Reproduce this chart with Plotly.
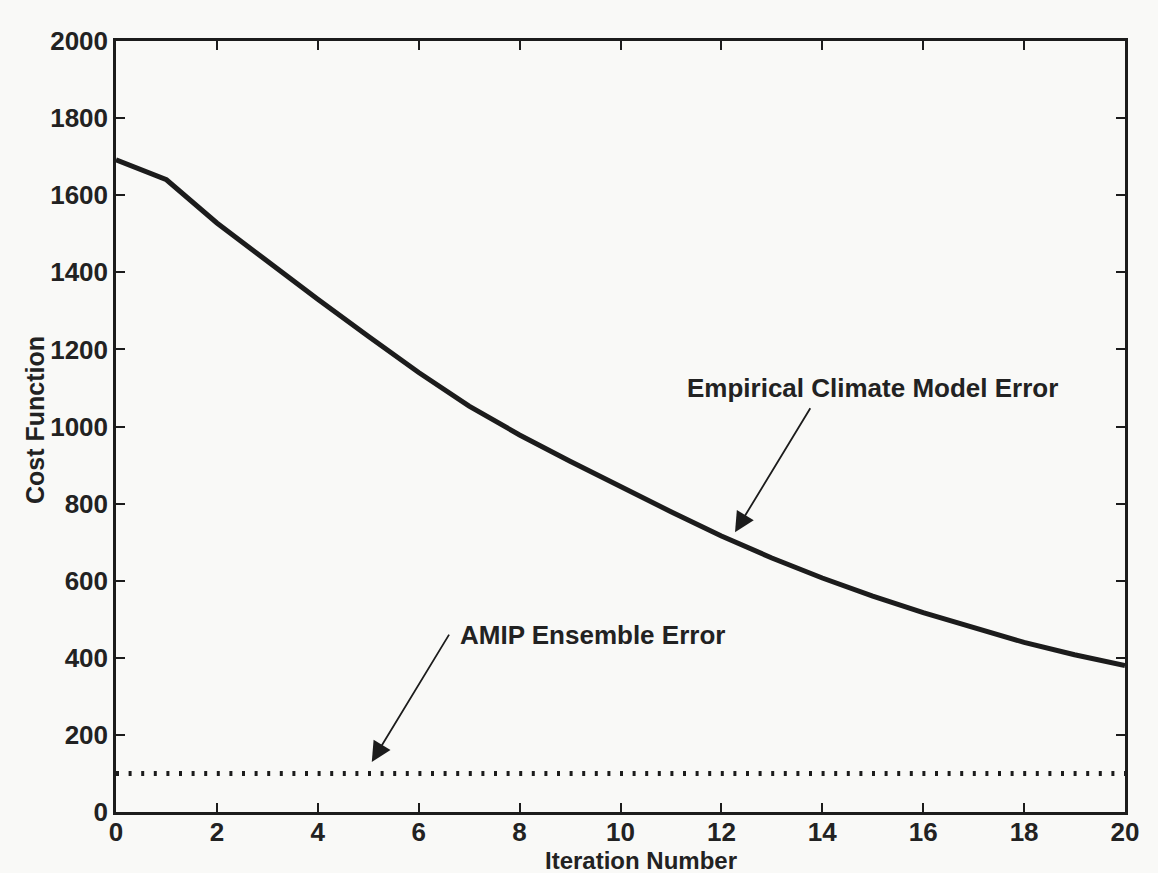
import plotly.graph_objects as go

# Data
iterations = list(range(0, 21))
ecm_error = [1692, 1640, 1528, 1428, 1330, 1234, 1140, 1053, 978, 910, 844,
             779, 716, 659, 607, 560, 517, 477, 440, 408, 380]
amip_x = [0, 20]
amip_error = [100, 100]

x_ticks = list(range(0, 21, 2))
y_ticks = list(range(0, 2001, 200))

ink = "#1c1c1c"
font_family = "Liberation Sans, Arial, Helvetica, sans-serif"

fig = go.Figure()
fig.add_trace(go.Scatter(x=iterations, y=ecm_error, mode="lines",
                         line=dict(color=ink, width=5), showlegend=False))
fig.add_trace(go.Scatter(x=amip_x, y=amip_error, mode="lines",
                         line=dict(color=ink, width=5, dash="3px,9.6px"),
                         showlegend=False))

axis_common = dict(showline=True, linecolor=ink, linewidth=2.5, mirror="ticks",
                   ticks="inside", ticklen=9, tickwidth=2, tickcolor=ink,
                   showgrid=False, zeroline=False,
                   tickfont=dict(family=font_family, size=26, color="#222", weight="bold"))

fig.update_xaxes(range=[0, 20], tickvals=x_ticks, ticktext=[str(v) for v in x_ticks],
                 ticklabelstandoff=-5, **axis_common)
fig.update_yaxes(range=[0, 2000], tickvals=y_ticks, ticktext=[str(v) for v in y_ticks],
                 **axis_common)

label_font = dict(family=font_family, size=26, color="#222", weight="bold")

annotations = [
    # ECM label + arrow
    dict(x=15.0, y=1100, xref="x", yref="y", text="Empirical Climate Model Error",
         showarrow=False, font=label_font, xanchor="center", yanchor="middle"),
    dict(x=12.27, y=726, ax=13.78, ay=1051, xref="x", yref="y", axref="x", ayref="y",
         text="", showarrow=True, arrowhead=2, arrowsize=2.2, arrowwidth=1.8,
         arrowcolor=ink),
    # AMIP label + arrow
    dict(x=9.45, y=459, xref="x", yref="y", text="AMIP Ensemble Error",
         showarrow=False, font=label_font, xanchor="center", yanchor="middle"),
    dict(x=5.07, y=130, ax=6.62, ay=464, xref="x", yref="y", axref="x", ayref="y",
         text="", showarrow=True, arrowhead=2, arrowsize=2.2, arrowwidth=1.8,
         arrowcolor=ink),
    # axis titles
    dict(x=35, y=420, xref="paper", yref="paper", text="Cost Function",
         showarrow=False, font=dict(family=font_family, size=25, color="#222", weight="bold"),
         textangle=-90, xanchor="center", yanchor="middle"),
    dict(x=641, y=860, xref="paper", yref="paper", text="Iteration Number",
         showarrow=False, font=dict(family=font_family, size=24, color="#222", weight="bold"),
         xanchor="center", yanchor="middle"),
]

# convert pixel-positioned axis titles into paper coordinates
L, R, T, B = 116, 33, 41, 61
W, H = 1158, 873
pw, ph = W - L - R, H - T - B
for a in annotations:
    if a.get("xref") == "paper":
        a["x"] = (a["x"] - L) / pw
        a["y"] = (H - B - a["y"]) / ph

fig.update_layout(
    width=W, height=H,
    margin=dict(l=L, r=R, t=T, b=B),
    paper_bgcolor="#f9f9f7", plot_bgcolor="#f9f9f7",
    annotations=annotations,
    font=dict(family=font_family),
)

fig.write_html("out.html")
